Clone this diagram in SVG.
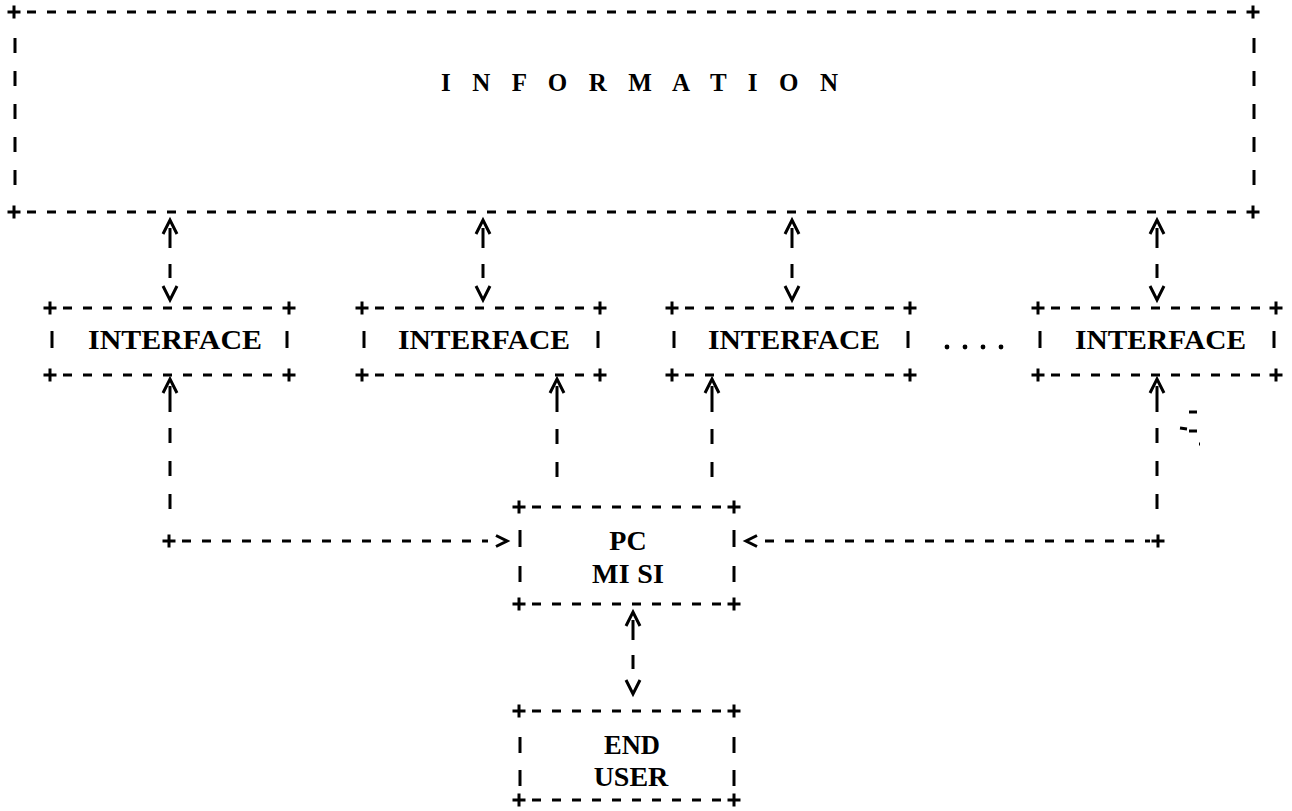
<svg xmlns="http://www.w3.org/2000/svg" xmlns:xlink="http://www.w3.org/1999/xlink" width="1292" height="811" viewBox="0 0 1292 811">
  <style>
    .ln { stroke: #000; stroke-width: 3; fill: none; }
    .h { stroke-dasharray: 9 11; }
    .v { stroke-dasharray: 15 18; }
    .t { font-family: "Liberation Serif", "DejaVu Serif", serif; font-weight: bold; fill: #000; }
  </style>
  <defs>
    <path id="plus" class="ln" d="M-6.5 0H6.5M0 -6.5V6.5" stroke-width="3"/>
    <path id="up" class="ln" d="M-7 14L0 0L7 14"/>
    <path id="down" class="ln" d="M-7 -14L0 0L7 -14"/>
    <path id="right" class="ln" d="M0 -5.5L11 0L0 5.5"/>
    <path id="left" class="ln" d="M0 -5.5L-11 0L0 5.5"/>
  </defs>
  <rect width="1292" height="811" fill="#fff"/>

  <!-- information store -->
  <g id="information">
    <use xlink:href="#plus" x="14" y="12"/>
    <use xlink:href="#plus" x="1253" y="12"/>
    <use xlink:href="#plus" x="14" y="212"/>
    <use xlink:href="#plus" x="1253" y="212"/>
    <line class="ln h" x1="27" y1="12" x2="1243" y2="12"/>
    <line class="ln h" x1="27" y1="212" x2="1243" y2="212"/>
    <line class="ln v" x1="15" y1="38" x2="15" y2="186"/>
    <line class="ln v" x1="1254" y1="38" x2="1254" y2="186"/>
    <text class="t" x="441" y="91" font-size="25" textLength="397" lengthAdjust="spacing">I N F O R M A T I O N</text>
  </g>

  <!-- interface boxes -->
  <g id="interface1">
    <use xlink:href="#plus" x="50" y="308"/>
    <use xlink:href="#plus" x="289" y="308"/>
    <use xlink:href="#plus" x="50" y="375"/>
    <use xlink:href="#plus" x="289" y="375"/>
    <line class="ln h" x1="63" y1="308" x2="280" y2="308"/>
    <line class="ln h" x1="63" y1="375" x2="280" y2="375"/>
    <line class="ln" x1="52" y1="331" x2="52" y2="348"/>
    <line class="ln" x1="287" y1="331" x2="287" y2="348"/>
    <text class="t" x="88" y="349" font-size="28" textLength="174" lengthAdjust="spacingAndGlyphs">INTERFACE</text>
  </g>
  <g id="interface2">
    <use xlink:href="#plus" x="362" y="308"/>
    <use xlink:href="#plus" x="600" y="308"/>
    <use xlink:href="#plus" x="362" y="375"/>
    <use xlink:href="#plus" x="600" y="375"/>
    <line class="ln h" x1="375" y1="308" x2="592" y2="308"/>
    <line class="ln h" x1="375" y1="375" x2="592" y2="375"/>
    <line class="ln" x1="364" y1="331" x2="364" y2="348"/>
    <line class="ln" x1="598" y1="331" x2="598" y2="348"/>
    <text class="t" x="398" y="349" font-size="28" textLength="172" lengthAdjust="spacingAndGlyphs">INTERFACE</text>
  </g>
  <g id="interface3">
    <use xlink:href="#plus" x="672" y="308"/>
    <use xlink:href="#plus" x="910" y="308"/>
    <use xlink:href="#plus" x="672" y="375"/>
    <use xlink:href="#plus" x="910" y="375"/>
    <line class="ln h" x1="685" y1="308" x2="902" y2="308"/>
    <line class="ln h" x1="685" y1="375" x2="902" y2="375"/>
    <line class="ln" x1="674" y1="331" x2="674" y2="348"/>
    <line class="ln" x1="908" y1="331" x2="908" y2="348"/>
    <text class="t" x="708" y="349" font-size="28" textLength="172" lengthAdjust="spacingAndGlyphs">INTERFACE</text>
  </g>
  <g id="ellipsis">
    <circle cx="947" cy="347" r="2.4"/>
    <circle cx="965" cy="347" r="2.4"/>
    <circle cx="983" cy="347" r="2.4"/>
    <circle cx="1001" cy="347" r="2.4"/>
  </g>
  <g id="interface4">
    <use xlink:href="#plus" x="1038" y="308"/>
    <use xlink:href="#plus" x="1276" y="308"/>
    <use xlink:href="#plus" x="1038" y="375"/>
    <use xlink:href="#plus" x="1276" y="375"/>
    <line class="ln h" x1="1051" y1="308" x2="1268" y2="308"/>
    <line class="ln h" x1="1051" y1="375" x2="1268" y2="375"/>
    <line class="ln" x1="1040" y1="331" x2="1040" y2="348"/>
    <line class="ln" x1="1274" y1="331" x2="1274" y2="348"/>
    <text class="t" x="1075" y="349" font-size="28" textLength="171" lengthAdjust="spacingAndGlyphs">INTERFACE</text>
  </g>

  <!-- PC MISI -->
  <g id="pc-misi">
    <use xlink:href="#plus" x="519" y="507"/>
    <use xlink:href="#plus" x="734" y="507"/>
    <use xlink:href="#plus" x="519" y="604"/>
    <use xlink:href="#plus" x="734" y="604"/>
    <line class="ln h" x1="532" y1="507" x2="726" y2="507"/>
    <line class="ln h" x1="532" y1="604" x2="726" y2="604"/>
    <line class="ln" x1="520" y1="530" x2="520" y2="547"/>
    <line class="ln" x1="520" y1="566" x2="520" y2="582"/>
    <line class="ln" x1="734" y1="530" x2="734" y2="547"/>
    <line class="ln" x1="734" y1="566" x2="734" y2="582"/>
    <text class="t" x="628" y="550" font-size="28" text-anchor="middle">PC</text>
    <text class="t" x="592" y="583" font-size="28" textLength="72" lengthAdjust="spacing">MI SI</text>
  </g>

  <!-- END USER -->
  <g id="end-user">
    <use xlink:href="#plus" x="519" y="711"/>
    <use xlink:href="#plus" x="734" y="711"/>
    <use xlink:href="#plus" x="519" y="800"/>
    <use xlink:href="#plus" x="734" y="800"/>
    <line class="ln h" x1="532" y1="711" x2="726" y2="711"/>
    <line class="ln h" x1="532" y1="800" x2="726" y2="800"/>
    <line class="ln" x1="520" y1="737" x2="520" y2="753"/>
    <line class="ln" x1="520" y1="770" x2="520" y2="786"/>
    <line class="ln" x1="734" y1="737" x2="734" y2="753"/>
    <line class="ln" x1="734" y1="770" x2="734" y2="786"/>
    <text class="t" x="632" y="754" font-size="28" text-anchor="middle" textLength="56" lengthAdjust="spacingAndGlyphs">END</text>
    <text class="t" x="631" y="786" font-size="28" text-anchor="middle">USER</text>
  </g>

  <!-- connectors -->
  <g id="connectors">
    <!-- information <-> interfaces -->
    <g>
      <use xlink:href="#up" x="170" y="220"/>
      <line class="ln" x1="170" y1="228" x2="170" y2="248"/>
      <line class="ln" x1="170" y1="264" x2="170" y2="278"/>
      <use xlink:href="#down" x="170" y="300"/>

      <use xlink:href="#up" x="483" y="220"/>
      <line class="ln" x1="483" y1="228" x2="483" y2="248"/>
      <line class="ln" x1="483" y1="264" x2="483" y2="278"/>
      <use xlink:href="#down" x="483" y="300"/>

      <use xlink:href="#up" x="792" y="220"/>
      <line class="ln" x1="792" y1="228" x2="792" y2="248"/>
      <line class="ln" x1="792" y1="264" x2="792" y2="278"/>
      <use xlink:href="#down" x="792" y="300"/>

      <use xlink:href="#up" x="1157" y="220"/>
      <line class="ln" x1="1157" y1="228" x2="1157" y2="248"/>
      <line class="ln" x1="1157" y1="264" x2="1157" y2="278"/>
      <use xlink:href="#down" x="1157" y="300"/>
    </g>

    <!-- interface 1 -> PC MISI -->
    <use xlink:href="#up" x="170" y="379"/>
    <line class="ln" x1="170" y1="386" x2="170" y2="412"/>
    <line class="ln v" x1="170" y1="428" x2="170" y2="510"/>
    <use xlink:href="#plus" x="169" y="541"/>
    <line class="ln h" x1="182" y1="541" x2="488" y2="541"/>
    <use xlink:href="#right" x="496" y="541"/>

    <!-- interface 2 -> PC MISI -->
    <use xlink:href="#up" x="557" y="379"/>
    <line class="ln" x1="557" y1="386" x2="557" y2="412"/>
    <line class="ln v" x1="557" y1="429" x2="557" y2="478"/>

    <!-- interface 3 -> PC MISI -->
    <use xlink:href="#up" x="712" y="379"/>
    <line class="ln" x1="712" y1="386" x2="712" y2="412"/>
    <line class="ln v" x1="712" y1="429" x2="712" y2="478"/>

    <!-- interface 4 -> PC MISI -->
    <use xlink:href="#up" x="1157" y="379"/>
    <line class="ln" x1="1157" y1="386" x2="1157" y2="412"/>
    <line class="ln v" x1="1157" y1="428" x2="1157" y2="510"/>
    <use xlink:href="#plus" x="1158" y="541"/>
    <line class="ln h" x1="765" y1="541" x2="1150" y2="541"/>
    <use xlink:href="#left" x="757" y="541"/>

    <!-- PC MISI <-> END USER -->
    <use xlink:href="#up" x="633" y="612"/>
    <line class="ln" x1="633" y1="620" x2="633" y2="640"/>
    <line class="ln" x1="633" y1="655" x2="633" y2="669"/>
    <use xlink:href="#down" x="633" y="694"/>
  </g>

  <!-- stray specks -->
  <g id="specks" class="ln" stroke-width="2">
    <line x1="1189" y1="412" x2="1197" y2="412"/>
    <line x1="1180" y1="428" x2="1187" y2="429"/>
    <line x1="1189" y1="431" x2="1197" y2="431"/>
    <line x1="1199" y1="444" x2="1200" y2="444"/>
  </g>
</svg>
